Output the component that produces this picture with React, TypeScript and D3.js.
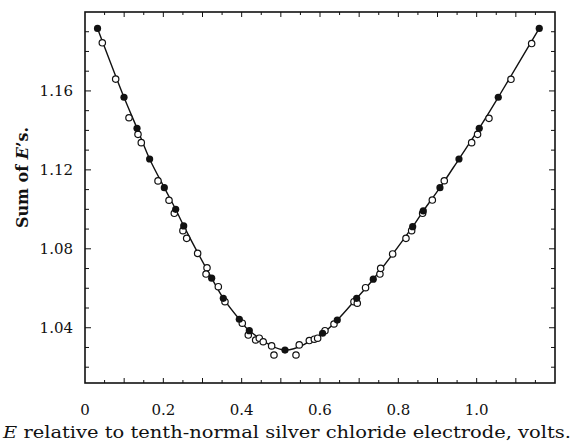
import React from "react";
import { scaleLinear, line, curveCatmullRom, range } from "d3";

const svgWidth = 574;
const svgHeight = 446;
const frame = { left: 85, right: 555, top: 12, bottom: 383 };
const fontFamily = "'DejaVu Serif', 'Liberation Serif', serif";

// x: E relative to tenth-normal silver chloride electrode (volts), y: sum of E's
const filledX = [0.032, 0.0996, 0.1328, 0.165, 0.2025, 0.2315, 0.252, 0.3234, 0.3531, 0.394, 0.4195, 0.5106, 0.6066, 0.6441, 0.6936, 0.736, 0.8366, 0.8637, 0.9063, 0.9548, 1.0066, 1.0552, 1.1598];
const filledY = [1.1917, 1.1568, 1.1411, 1.1255, 1.111, 1.1, 1.0916, 1.0651, 1.0549, 1.0443, 1.0385, 1.0287, 1.0372, 1.0439, 1.0549, 1.0646, 1.0912, 1.0992, 1.111, 1.1255, 1.1411, 1.1568, 1.1917];

const openX = [0.0442, 0.0783, 0.1123, 0.1353, 0.1437, 0.1864, 0.2145, 0.228, 0.25, 0.2596, 0.2876, 0.3115, 0.309, 0.3404, 0.3574, 0.4016, 0.4169, 0.4357, 0.445, 0.455, 0.4765, 0.4825, 0.5387, 0.547, 0.5727, 0.5855, 0.594, 0.6127, 0.6357, 0.6867, 0.6952, 0.7163, 0.753, 0.7549, 0.7855, 0.8195, 0.834, 0.862, 0.8868, 0.9173, 0.9872, 1.0023, 1.0314, 1.0876, 1.1404];
const openY = [1.1844, 1.166, 1.1464, 1.138, 1.1338, 1.1144, 1.1046, 1.098, 1.0892, 1.0853, 1.0777, 1.0704, 1.0672, 1.0608, 1.0532, 1.0423, 1.0363, 1.0338, 1.0347, 1.0329, 1.0308, 1.0262, 1.0262, 1.0313, 1.0335, 1.0342, 1.0347, 1.0385, 1.0419, 1.0532, 1.0524, 1.0603, 1.0672, 1.0701, 1.0774, 1.0853, 1.0892, 1.098, 1.1047, 1.1145, 1.1338, 1.138, 1.1461, 1.1659, 1.184];

const xTickLabels = [0, 0.2, 0.4, 0.6, 0.8, 1.0];
const yTickLabels = [1.04, 1.08, 1.12, 1.16];

const filled = filledX.map((x, i) => ({ x, y: filledY[i] }));
const open = openX.map((x, i) => ({ x, y: openY[i] }));

export default function App() {
  const xScale = scaleLinear().domain([0, 1.2]).range([frame.left, frame.right]);
  const yScale = scaleLinear().domain([1.012, 1.2]).range([frame.bottom, frame.top]);

  const path = line<{ x: number; y: number }>()
    .x((d) => xScale(d.x))
    .y((d) => yScale(d.y))
    .curve(curveCatmullRom.alpha(0.5));

  const xMinor = range(1, 24).map((i) => i * 0.05);
  const yMinor = range(102, 120).map((i) => i / 100);

  return (
    <svg
      width={svgWidth}
      height={svgHeight}
      style={{ position: "absolute", left: 0, top: 0, background: "#fff" }}
    >
      <rect x={0} y={0} width={svgWidth} height={svgHeight} fill="#fff" />
      {/* ticks on all four sides, pointing inward */}
      {xMinor.map((t, i) => {
        const len = i % 2 === 1 ? 5 : 3;
        const x = xScale(t);
        return (
          <g key={`xt${i}`} stroke="#111" strokeWidth={1}>
            <line x1={x} x2={x} y1={frame.bottom} y2={frame.bottom - len} />
            <line x1={x} x2={x} y1={frame.top} y2={frame.top + len} />
          </g>
        );
      })}
      {yMinor.map((t, i) => {
        const major = Math.round(t * 100) % 4 === 0;
        const len = major ? 6 : 4;
        const y = yScale(t);
        return (
          <g key={`yt${i}`} stroke="#111" strokeWidth={1}>
            <line x1={frame.left} x2={frame.left + len} y1={y} y2={y} />
            <line x1={frame.right} x2={frame.right - len} y1={y} y2={y} />
          </g>
        );
      })}
      <rect
        x={frame.left}
        y={frame.top}
        width={frame.right - frame.left}
        height={frame.bottom - frame.top}
        fill="none"
        stroke="#111"
        strokeWidth={1.6}
      />
      {xTickLabels.map((t) => (
        <text
          key={`xl${t}`}
          x={xScale(t)}
          y={415}
          textAnchor="middle"
          fontFamily={fontFamily}
          fontSize={15}
          fill="#111"
        >
          {t === 0 ? "0" : t.toFixed(1)}
        </text>
      ))}
      {yTickLabels.map((t) => (
        <text
          key={`yl${t}`}
          x={73}
          y={yScale(t) + 5}
          textAnchor="end"
          fontFamily={fontFamily}
          fontSize={15}
          fill="#111"
        >
          {t.toFixed(2)}
        </text>
      ))}
      <text
        x={287}
        y={438}
        textAnchor="middle"
        fontFamily={fontFamily}
        fontSize={16}
        fill="#111"
        textLength={568}
        lengthAdjust="spacingAndGlyphs"
      >
        <tspan fontStyle="italic">E</tspan> relative to tenth-normal silver chloride electrode, volts.
      </text>
      <text
        transform={`translate(28,${(frame.top + frame.bottom) / 2 - 20}) rotate(-90)`}
        textAnchor="middle"
        fontFamily={fontFamily}
        fontSize={16}
        fontWeight="bold"
        fill="#111"
      >
        Sum of <tspan fontStyle="italic">E</tspan>’s.
      </text>
      <path d={path(filled) ?? ""} fill="none" stroke="#111" strokeWidth={1.4} />
      {open.map((d, i) => (
        <circle
          key={`o${i}`}
          cx={xScale(d.x)}
          cy={yScale(d.y)}
          r={3.2}
          fill="#fff"
          stroke="#111"
          strokeWidth={1.2}
        />
      ))}
      {filled.map((d, i) => (
        <circle key={`f${i}`} cx={xScale(d.x)} cy={yScale(d.y)} r={3.6} fill="#111" />
      ))}
    </svg>
  );
}
